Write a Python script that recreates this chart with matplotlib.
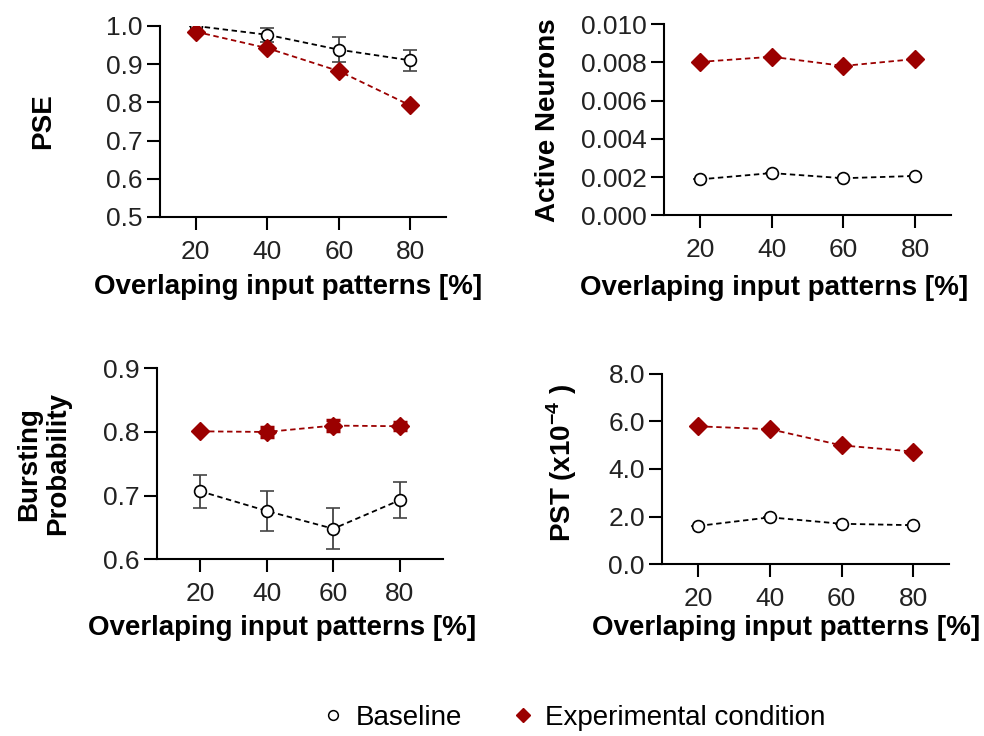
#! /usr/bin/env python3

"Four panels: baseline vs experimental condition across overlapping input patterns"

import matplotlib
matplotlib.use("Agg")
import matplotlib.pyplot as plt
from matplotlib.lines import Line2D

plt.rcParams['font.family'] = ['Liberation Sans', 'DejaVu Sans']
plt.rcParams['mathtext.fontset'] = 'custom'
plt.rcParams['mathtext.rm'] = 'Liberation Sans'
plt.rcParams['mathtext.bf'] = 'Liberation Sans:bold'

overlap = [20, 40, 60, 80]

# PSE
pse_base = [1.0, 0.977, 0.938, 0.910]
pse_base_err = [0.0, 0.018, 0.032, 0.027]
pse_exp = [0.985, 0.942, 0.882, 0.792]
pse_exp_err = [0.0, 0.0, 0.0, 0.0]

# Active neurons
act_base = [0.00188, 0.00221, 0.00194, 0.00206]
act_base_err = [0.0, 0.0, 0.0, 0.0]
act_exp = [0.00803, 0.00830, 0.00782, 0.00818]
act_exp_err = [0.0, 0.0, 0.0, 0.0]

# Bursting probability
burst_base = [0.707, 0.676, 0.648, 0.693]
burst_base_err = [0.026, 0.031, 0.032, 0.028]
burst_exp = [0.801, 0.800, 0.810, 0.809]
burst_exp_err = [0.0, 0.008, 0.008, 0.006]

# PST (x10^-4)
pst_base = [1.61, 1.97, 1.70, 1.64]
pst_base_err = [0.0, 0.0, 0.0, 0.0]
pst_exp = [5.79, 5.67, 4.99, 4.73]
pst_exp_err = [0.0, 0.0, 0.0, 0.0]

red = "#9b0000"
tick_fs = 19
label_fs = 20

fig = plt.figure(figsize=(9.84, 7.36), dpi=100)

panels = [
    # rect, base, base err, exp, exp err, ylim, yticks, fmt, ylabel, xlim, ylabel pos, xlabel pos
    ([0.1626, 0.7052, 0.2907, 0.2595], pse_base, pse_base_err, pse_exp, pse_exp_err,
     (0.5, 1.0), [0.5, 0.6, 0.7, 0.8, 0.9, 1.0], "{:.1f}", "PSE", (10, 90),
     (-0.41, 0.5), (0.449, -0.365)),
    ([0.6748, 0.7075, 0.2917, 0.2595], act_base, act_base_err, act_exp, act_exp_err,
     (0.0, 0.010), [0.0, 0.002, 0.004, 0.006, 0.008, 0.010], "{:.3f}", "Active Neurons",
     (10, 90), (-0.405, 0.5), (0.383, -0.38)),
    ([0.1592, 0.2401, 0.2913, 0.2595], burst_base, burst_base_err, burst_exp, burst_exp_err,
     (0.6, 0.9), [0.6, 0.7, 0.8, 0.9], "{:.1f}", "Bursting\nProbability", (7, 93),
     (-0.395, 0.5), (0.437, -0.36)),
    ([0.6731, 0.2333, 0.2917, 0.2590], pst_base, pst_base_err, pst_exp, pst_exp_err,
     (0.0, 8.0), [0.0, 2.0, 4.0, 6.0, 8.0], "{:.1f}", r"PST (x10$^{\mathbf{-4}}$ )", (10, 90),
     (-0.35, 0.53), (0.431, -0.335)),
]

for rect, base, base_err, exp, exp_err, ylim, yticks, fmt, ylabel, xlim, ylpos, xlpos in panels:
    ax = fig.add_axes(rect)
    ax.errorbar(overlap, base, yerr=base_err, color="black", ecolor="#444444",
                linestyle=(0, (3, 2)), linewidth=1.3, marker="o", markersize=8.5,
                markerfacecolor="white", markeredgecolor="black", markeredgewidth=1.2,
                elinewidth=1.3, capsize=5, capthick=1.3, zorder=3)
    ax.errorbar(overlap, exp, yerr=exp_err, color=red, ecolor=red,
                linestyle=(0, (3, 2)), linewidth=1.3, marker="D", markersize=9,
                markerfacecolor=red, markeredgecolor=red,
                elinewidth=2.5, capsize=5, capthick=2.5, zorder=4)
    ax.set_xlim(*xlim)
    ax.set_ylim(*ylim)
    ax.set_xticks(overlap)
    ax.set_yticks(yticks)
    ax.set_yticklabels([fmt.format(v) for v in yticks])
    ax.spines["top"].set_visible(False)
    ax.spines["right"].set_visible(False)
    ax.spines["left"].set_linewidth(1.5)
    ax.spines["bottom"].set_linewidth(1.5)
    ax.tick_params(axis="both", length=9.5, width=1.5, labelsize=tick_fs,
                   colors="black", labelcolor="#222222")
    ax.tick_params(axis="y", pad=3)
    ax.tick_params(axis="x", pad=7)
    for s in ("left", "bottom"):
        ax.spines[s].set_clip_on(False)
    ax.set_xlabel("Overlaping input patterns [%]", fontsize=label_fs, fontweight="bold")
    ax.set_ylabel(ylabel, fontsize=label_fs, fontweight="bold", linespacing=1.15)
    ax.xaxis.set_label_coords(*xlpos)
    ax.yaxis.set_label_coords(*ylpos)
    ax.xaxis.label.set_va("center")
    ax.yaxis.label.set_va("center")

handles = [
    Line2D([], [], linestyle="none", marker="o", markersize=7,
           markerfacecolor="white", markeredgecolor="black", markeredgewidth=1.1),
    Line2D([], [], linestyle="none", marker="D", markersize=7,
           markerfacecolor=red, markeredgecolor=red),
]
fig.legend(handles, ["Baseline", "Experimental condition"], loc="center",
           bbox_to_anchor=(0.583, 0.025), ncol=2, frameon=False, fontsize=20,
           handlelength=0.8, handletextpad=0.4, columnspacing=1.8)

fig.savefig("out.png", dpi=100)
